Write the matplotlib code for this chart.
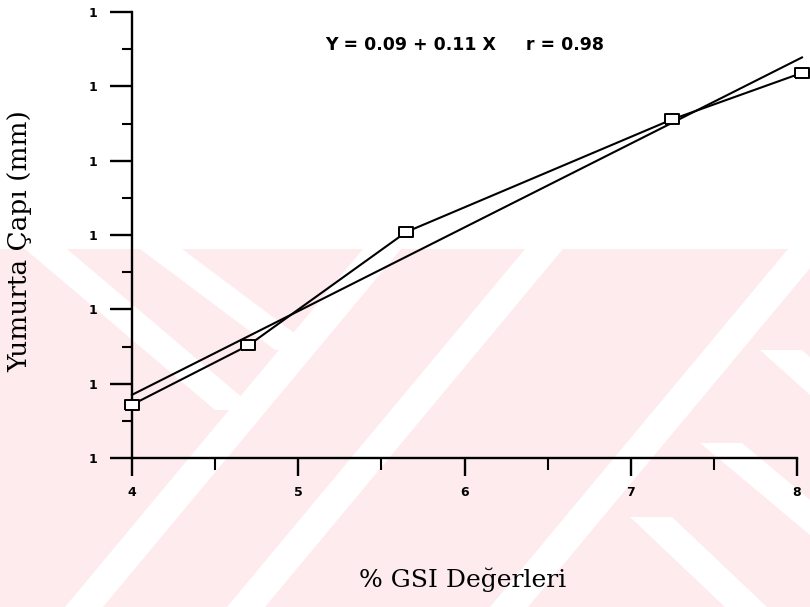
import numpy as np
import matplotlib
matplotlib.use("Agg")
import matplotlib.pyplot as plt
from matplotlib.patches import Polygon

# GSI (%) vs egg diameter (mm)
gsi = [4.0, 4.70, 5.65, 7.25, 8.03]
cap = [0.517, 0.595, 0.744, 0.892, 0.953]

# regression Y = a + b X
a, b = 0.09, 0.11
reg_x = [4.0, 8.03]

x_ticks = [4, 5, 6, 7, 8]
x_ticklabels = ["4", "5", "6", "7", "8"]
y_lo, y_hi = 0.447, 1.033
y_ticklabels = ["1"] * 7

W, H = 810, 607
fig = plt.figure(figsize=(W / 100, H / 100), dpi=100)
fig.patch.set_facecolor("white")


def px(x, y):
    return (x / W, 1 - y / H)


# pale pink background stamp with white diagonal bands
pink = "#fdebee"
fig.add_artist(Polygon([px(0, 249), px(W, 249), px(W, H), px(0, H)],
                       closed=True, transform=fig.transFigure,
                       facecolor=pink, edgecolor="none", zorder=0))
rise = 298
for xb in [65, 227, 490]:
    fig.add_artist(Polygon([px(xb, H), px(xb + 38, H), px(xb + 38 + rise, 249), px(xb + rise, 249)],
                           closed=True, transform=fig.transFigure,
                           facecolor="white", edgecolor="none", zorder=0.1))
back = [((25, 249), (215, 410)), ((140, 249), (275, 350)),
        ((630, 517), (725, 607)), ((700, 443), (810, 535)),
        ((760, 350), (810, 395))]
for (x0, y0), (x1, y1) in back:
    fig.add_artist(Polygon([px(x0, y0), px(x0 + 42, y0), px(x1 + 42, y1), px(x1, y1)],
                           closed=True, transform=fig.transFigure,
                           facecolor="white", edgecolor="none", zorder=0.1))

ax = fig.add_axes([132 / W, 1 - 458 / H, (797 - 132) / W, (458 - 12) / H])
ax.set_facecolor("none")
ax.set_zorder(2)

# box marker, wider than tall
box = [(-1.4, -1), (1.4, -1), (1.4, 1), (-1.4, 1), (-1.4, -1)]

ax.plot(gsi, cap, color="black", lw=1.5, zorder=3, clip_on=False)
ax.plot(gsi, cap, linestyle="none", marker=box, markersize=10, markerfacecolor="white",
        markeredgecolor="black", markeredgewidth=1.4, zorder=4, clip_on=False)
reg_y = [a + b * v for v in reg_x]
ax.plot(reg_x, reg_y, color="black", lw=1.5, zorder=3, clip_on=False)

ax.set_xlim(4, 8)
ax.set_ylim(y_lo, y_hi)

for s in ["top", "right"]:
    ax.spines[s].set_visible(False)
for s in ["left", "bottom"]:
    ax.spines[s].set_linewidth(1.7)

ax.set_xticks(x_ticks)
ax.set_xticklabels(x_ticklabels)
ax.set_xticks(np.arange(4.5, 8, 1.0), minor=True)
yt = np.linspace(y_lo, y_hi, 7)
ax.set_yticks(yt)
ax.set_yticklabels(y_ticklabels)
ax.set_yticks((yt[:-1] + yt[1:]) / 2, minor=True)

ax.tick_params(axis="x", which="major", direction="out", length=13, width=1.7, pad=7)
ax.tick_params(axis="x", which="minor", direction="out", length=8.5, width=1.5)
ax.tick_params(axis="y", which="major", direction="out", length=16, width=1.7, pad=9)
ax.tick_params(axis="y", which="minor", direction="out", length=7, width=1.5)
for lab in ax.get_xticklabels() + ax.get_yticklabels():
    lab.set_fontweight("bold")
    lab.set_fontsize(9)
    lab.set_family("DejaVu Sans")

ax.text(0.5, 0.926, "Y = 0.09 + 0.11 X     r = 0.98", transform=ax.transAxes,
        ha="center", va="center", fontsize=12.5, fontweight="bold", family="DejaVu Sans")

fig.text(20 / W, 1 - 241 / H, "Yumurta Çapı (mm)", rotation=90, ha="center", va="center",
         fontsize=19, family="DejaVu Serif")
fig.text(463 / W, 1 - 580 / H, "% GSI Değerleri", ha="center", va="center",
         fontsize=18, family="DejaVu Serif")

fig.savefig("out.png", dpi=100)
